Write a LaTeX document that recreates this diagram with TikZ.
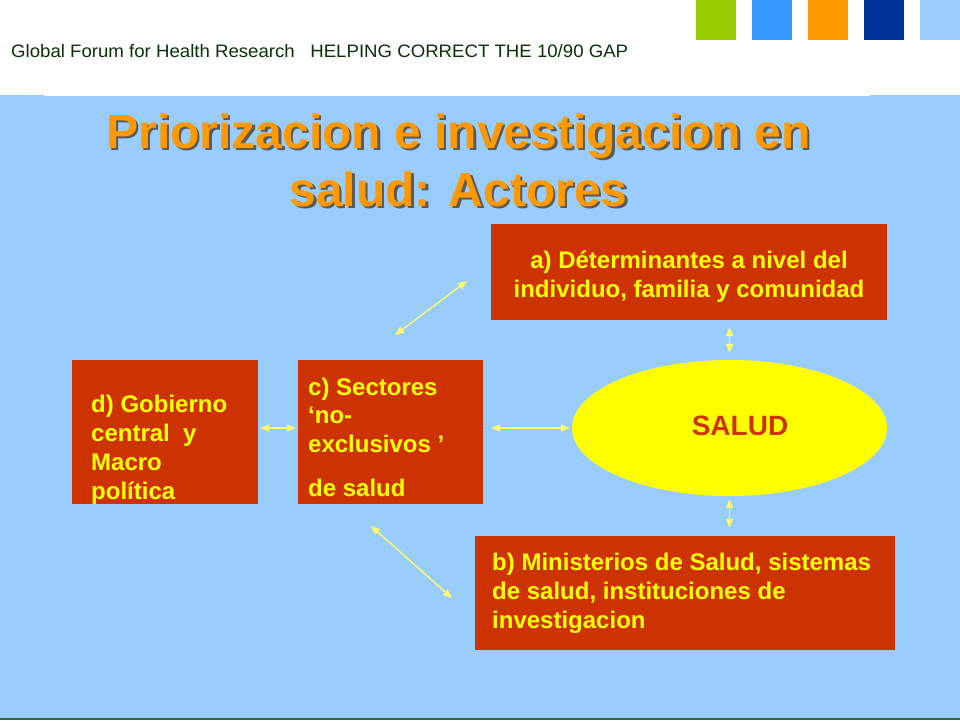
\documentclass[tikz,border=0pt]{standalone}
\usepackage{graphicx}
\usepackage{fontspec}
\setmainfont{Liberation Sans}
\usetikzlibrary{arrows.meta,shapes.geometric}
\definecolor{bgblue}{HTML}{99CCFF}
\definecolor{boxred}{HTML}{CC3300}
\definecolor{txtyellow}{HTML}{FFFF00}
\definecolor{arryellow}{HTML}{FFFF66}
\definecolor{titleorange}{HTML}{FF9900}
\definecolor{titleshadow}{HTML}{5A5A5A}
\definecolor{hdrgreen}{HTML}{0A300A}
\definecolor{sqgreen}{HTML}{99CC00}
\definecolor{sqblue}{HTML}{3399FF}
\definecolor{sqorange}{HTML}{FF9900}
\definecolor{sqnavy}{HTML}{003399}
\definecolor{sqlight}{HTML}{99CCFF}
\definecolor{bottomgreen}{HTML}{336633}
\newcommand\myshadowed[1]{\makebox[0pt][l]{\hspace{2.5pt}\raisebox{-2.5pt}{\textcolor{titleshadow}{#1}}}#1}
\tikzset{
  redbox/.style={rectangle, fill=boxred, draw=none, inner sep=0pt},
  boxtext/.style={text=txtyellow, inner sep=0pt, align=left,
    font=\fontsize{24}{29}\selectfont\bfseries},
  titletext/.style={inner sep=0pt, anchor=base, text=titleorange,
    font=\fontsize{48}{56}\selectfont\bfseries},
  arr/.style={draw=arryellow, line width=1.3pt,
    {Triangle[length=9pt,width=7pt,fill=arryellow]}-{Triangle[length=9pt,width=7pt,fill=arryellow]}},
  sq/.style={rectangle, inner sep=0pt, minimum width=40pt, minimum height=40pt, anchor=north west}
}
\begin{document}
\begin{tikzpicture}[x=1pt,y=-1pt]
\useasboundingbox (0,0) rectangle (960,720);
\fill[white] (0,0) rectangle (960,720);
\fill[bgblue] (0,95) rectangle (960,718);
\fill[bottomgreen] (0,718) rectangle (960,720);
\draw[white, line width=1.2pt] (44,95.6) -- (870,95.6);
% top squares
\node[sq, fill=sqgreen] (s1) at (696,0) {};
\node[sq, fill=sqblue] (s2) at (752,0) {};
\node[sq, fill=sqorange] (s3) at (808,0) {};
\node[sq, fill=sqnavy] (s4) at (864,0) {};
\node[sq, fill=sqlight] (s5) at (920,0) {};
% header
\node[anchor=base west, inner sep=0pt, text=hdrgreen] (hdr) at (11,57.5)
  {\resizebox{617pt}{\height}{\fontsize{18}{20}\selectfont Global Forum for Health Research\ \ \ HELPING CORRECT THE 10/90 GAP}};
% title with shadow
\node[titletext] (t1) at (458.5,148) {\myshadowed{Priorizacion e investigacion en}};
\node[titletext] (t2) at (458.5,206) {\myshadowed{salud: Actores}};
% boxes
\node[redbox, minimum width=396pt, minimum height=96pt] (a) at (689,272) {};
\node[boxtext, align=center, anchor=base] (atext) at (689,297)
  {a) Déterminantes a nivel del\\individuo, familia y comunidad};
\node[redbox, minimum width=186pt, minimum height=144pt] (d) at (165,432) {};
\node[boxtext, anchor=north west] (dtext) at (91,394.5)
  {d) Gobierno\\central\ \ y\\Macro\\política};
\node[redbox, minimum width=185pt, minimum height=144pt] (c) at (390.5,432) {};
\node[boxtext, anchor=north west, font=\fontsize{24}{28.5}\selectfont\bfseries] (ctext) at (308,377.5)
  {c) Sectores\\‘no-\\exclusivos ’\\[15.5pt]de salud};
\node[redbox, minimum width=420pt, minimum height=114pt] (b) at (685,593) {};
\node[boxtext, anchor=north west] (btext) at (492,552.5)
  {b) Ministerios de Salud, sistemas\\de salud, instituciones de\\investigacion};
% ellipse
\node[ellipse, fill=txtyellow, draw=none, inner sep=0pt, minimum width=315pt, minimum height=136pt] (el) at (729.5,428) {};
\node[anchor=base, inner sep=0pt, text=boxred, font=\fontsize{28}{32}\selectfont\bfseries] (salud) at (740,435) {SALUD};
% connectors
\coordinate (ylev) at (0,428);
\coordinate (p1) at (395,335);
\coordinate (p2) at (467,281);
\coordinate (q1) at (371,526);
\coordinate (q2) at (452,598);
\draw[arr, shorten <=2pt, shorten >=2pt] (d.east |- ylev) -- (c.west |- ylev);
\draw[arr, shorten <=8pt, shorten >=2pt] (c.east |- ylev) -- (el.west);
\draw[arr] (p1) -- (p2);
\draw[arr] (q1) -- (q2);
\draw[arr, shorten <=7pt, shorten >=7pt] (a.south -| el.north) -- (el.north);
\draw[arr, shorten <=3pt, shorten >=8pt] (el.south) -- (b.north -| el.south);
\end{tikzpicture}
\end{document}
